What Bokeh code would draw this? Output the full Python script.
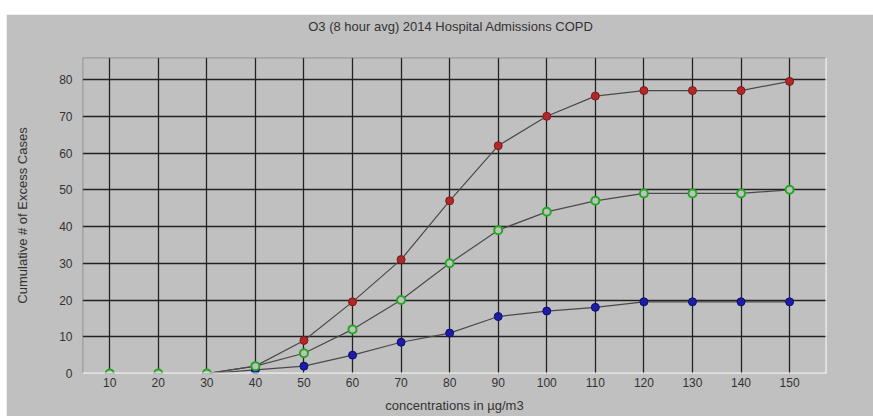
from bokeh.plotting import figure
from bokeh.models import Range1d, FixedTicker, Span, Spacer, LinearAxis
from bokeh.layouts import column, row
from bokeh.embed import file_html
from bokeh.resources import INLINE

title_text = "O3 (8 hour avg)  2014  Hospital Admissions COPD"
x_label = "concentrations in µg/m3"
y_label = "Cumulative # of Excess Cases"

conc = [10, 20, 30, 40, 50, 60, 70, 80, 90, 100, 110, 120, 130, 140, 150]
red_vals = [0, 0, 0, 2, 9, 19.5, 31, 47, 62, 70, 75.5, 77, 77, 77, 79.5]
green_vals = [0, 0, 0, 2, 5.5, 12, 20, 30, 39, 44, 47, 49, 49, 49, 50]
blue_vals = [0, 0, 0, 1, 2, 5, 8.5, 11, 15.5, 17, 18, 19.5, 19.5, 19.5, 19.5]
line_start = 2  # index where connecting lines begin (30)

x_ticks = conc
y_ticks = [0, 10, 20, 30, 40, 50, 60, 70, 80]

X0, X1 = 4.4, 157.6
Y0, Y1 = 0, 86

FONT = "Liberation Sans"
BG = "#c0c0c0"
TXT = "#333333"

p = figure(width=867, height=402, output_backend="svg", toolbar_location=None,
           x_range=Range1d(X0, X1), y_range=Range1d(Y0, Y1),
           min_border_left=76, min_border_right=47, min_border_top=43, min_border_bottom=43)
p.background_fill_color = BG
p.border_fill_color = BG
p.outline_line_color = None

x_axis = p.xaxis[0]
y_axis = p.yaxis[0]

# chart title drawn as the label of a tick-less axis above the frame
top_axis = LinearAxis(axis_label=title_text, ticker=FixedTicker(ticks=[], minor_ticks=[]))
p.add_layout(top_axis, "above")

for ax in (x_axis, y_axis, top_axis):
    ax.axis_line_color = None
    ax.major_tick_line_color = None
    ax.minor_tick_line_color = None
    ax.major_tick_out = 0
    ax.major_tick_in = 0
    ax.minor_tick_out = 0
    ax.minor_tick_in = 0
    ax.major_label_text_font = FONT
    ax.major_label_text_font_size = "12px"
    ax.major_label_text_color = TXT
    ax.axis_label_text_font = FONT
    ax.axis_label_text_font_size = "13px"
    ax.axis_label_text_font_style = "normal"
    ax.axis_label_text_color = TXT

top_axis.major_label_standoff = 0
top_axis.axis_label_standoff = 24

x_axis.ticker = FixedTicker(ticks=x_ticks)
y_axis.ticker = FixedTicker(ticks=y_ticks)
x_axis.axis_label = x_label
y_axis.axis_label = y_label
x_axis.major_label_standoff = 4
x_axis.axis_label_standoff = 8
y_axis.major_label_standoff = 10
y_axis.axis_label_standoff = 26

p.xgrid.ticker = FixedTicker(ticks=x_ticks)
p.ygrid.ticker = FixedTicker(ticks=y_ticks[1:])
for g in (p.xgrid[0], p.ygrid[0]):
    g.grid_line_color = "#222222"
    g.grid_line_width = 1.3
    g.grid_line_alpha = 1.0

# 3D-style frame border
p.add_layout(Span(location=Y1, dimension="width", line_color="#7a7a7a", line_width=1.5))
p.add_layout(Span(location=X0, dimension="height", line_color="#7a7a7a", line_width=1.5))
p.add_layout(Span(location=Y0, dimension="width", line_color="#f4f4f4", line_width=2))
p.add_layout(Span(location=X1, dimension="height", line_color="#f4f4f4", line_width=2))

for vals in (red_vals, green_vals, blue_vals):
    p.line(conc[line_start:], vals[line_start:], line_color="#4a4a4a", line_width=1.2)

p.scatter(conc, red_vals, size=8, fill_color="#b02828", line_color="#7a1a1a", line_width=1)
p.scatter(conc, blue_vals, size=8, fill_color="#1c1ca8", line_color="#10106a", line_width=1)
p.scatter(conc, green_vals, size=8, fill_color=BG, line_color="#1faa1f", line_width=2)

layout = column(Spacer(height=14, width=873), row(Spacer(width=6, height=402), p))
open("out.html", "w").write(file_html(layout, INLINE))
